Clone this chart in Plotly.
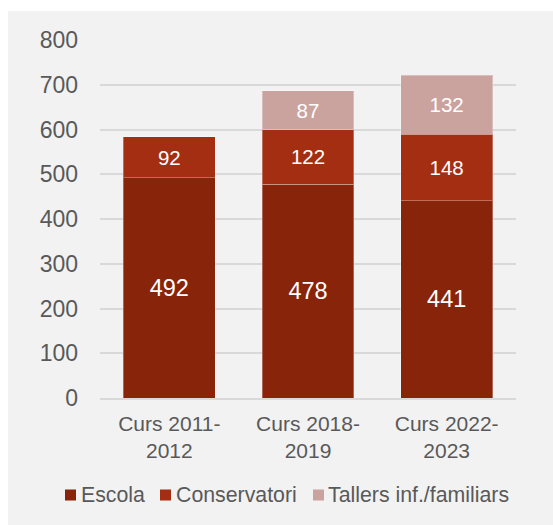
import plotly.graph_objects as go

# Enrolment by course, stacked by type of study
categories = ["Curs 2011-<br>2012", "Curs 2018-<br>2019", "Curs 2022-<br>2023"]
series_names = ["Escola", "Conservatori", "Tallers inf./familiars"]
escola = [492, 478, 441]
conservatori = [92, 122, 148]
tallers = [None, 87, 132]
colors = ["#88240A", "#A42E11", "#CBA39E"]
y_ticks = [0, 100, 200, 300, 400, 500, 600, 700, 800]

FONT = "Liberation Sans, Arial, sans-serif"
GREY_TEXT = "#595959"

L, R, T, B = 100, 37, 40, 127
W, H = 553, 525
plot_w = W - L - R
plot_h = H - T - B

fig = go.Figure()
label_sizes = [23.5, 20.5, 20.5]
for name, vals, col, fs in zip(series_names, [escola, conservatori, tallers], colors, label_sizes):
    fig.add_trace(go.Bar(
        x=categories,
        y=vals,
        name=name,
        marker=dict(color=col, line=dict(color="rgba(255,255,255,0.3)", width=1)),
        text=[("" if v is None else str(v)) for v in vals],
        textposition="inside",
        insidetextanchor="middle",
        textangle=0,
        textfont=dict(family=FONT, size=fs, color="white"),
        showlegend=False,
    ))

# grey panel behind the chart
fig.add_shape(
    type="rect", xref="paper", yref="paper", layer="below",
    x0=(8 - L) / plot_w, x1=(W + 5 - L) / plot_w,
    y0=-(H + 5 - T - plot_h) / plot_h, y1=(T + plot_h - 11) / plot_h,
    fillcolor="#F2F2F2", line=dict(width=0),
)

# legend: colour squares and labels under the axis
legend_sq_x = [65, 160, 313]
legend_txt_x = [79, 174, 326]
legend_y = 495
for name, col, sx, tx in zip(series_names, colors, legend_sq_x, legend_txt_x):
    fig.add_shape(
        type="rect", xref="paper", yref="paper",
        xsizemode="pixel", ysizemode="pixel", xanchor=0, yanchor=0,
        x0=sx - L, x1=sx + 11 - L,
        y0=(T + plot_h) - legend_y - 5.5, y1=(T + plot_h) - legend_y + 5.5,
        fillcolor=col, line=dict(width=0),
    )
    fig.add_annotation(
        xref="paper", yref="paper",
        x=(tx - L) / plot_w, y=((T + plot_h) - legend_y) / plot_h,
        xanchor="left", yanchor="middle", showarrow=False,
        text=name, font=dict(family=FONT, size=21.3, color=GREY_TEXT),
    )

fig.update_layout(
    width=W, height=H,
    margin=dict(l=L, r=R, t=T, b=B, pad=0),
    barmode="stack",
    bargap=0.337,
    paper_bgcolor="white",
    plot_bgcolor="rgba(0,0,0,0)",
    showlegend=False,
    font=dict(family=FONT, color=GREY_TEXT),
    uniformtext=dict(mode=False),
)
fig.update_yaxes(
    range=[0, 800], tickvals=y_ticks, ticks="",
    showgrid=True, gridcolor="#D9D9D9", gridwidth=1.8,
    zeroline=False, showline=False,
    tickfont=dict(family=FONT, size=23, color=GREY_TEXT),
    ticklabelstandoff=21,
)
fig.update_xaxes(
    ticks="", showline=True, linecolor="#D9D9D9", linewidth=1.8,
    showgrid=False,
    tickfont=dict(family=FONT, size=21, color=GREY_TEXT),
    ticklabelstandoff=6,
)

fig.write_html("out.html")
